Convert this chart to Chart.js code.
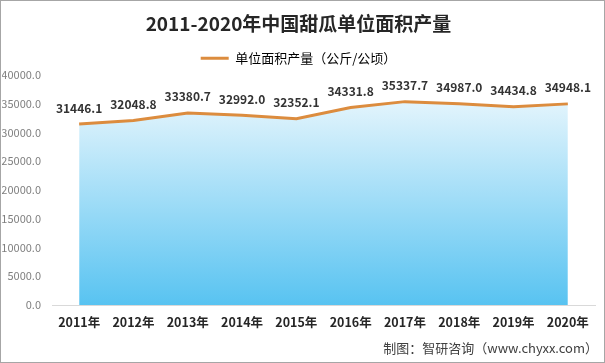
<!DOCTYPE html>
<html>
<head>
<meta charset="utf-8">
<script src="https://cdn.jsdelivr.net/npm/chart.js@4/dist/chart.umd.min.js"></script>
<style>
    html, body { margin: 0; padding: 0; background: #fff; }
    #wrap { width: 605px; height: 363px; position: relative; }
</style>
</head>
<body>
<div id="wrap"><canvas id="chart-melon"></canvas></div>
<script>
var years = ['2011年', '2012年', '2013年', '2014年', '2015年', '2016年', '2017年', '2018年', '2019年', '2020年'];
var yieldPerArea = [31446.1, 32048.8, 33380.7, 32992.0, 32352.1, 34331.8, 35337.7, 34987.0, 34434.8, 34948.1];
var seriesName = '单位面积产量（公斤/公顷）';
var chartTitle = '2011-2020年中国甜瓜单位面积产量';
var sourceText = '制图：智研咨询（www.chyxx.com）';

var FONT = "'Noto Sans CJK SC', 'Noto Sans', sans-serif";
var lineColor = '#DC8C3E';

// labels over points, source note and outer frame
var extrasPlugin = {
    id: 'extras',
    afterDatasetsDraw: function (chart) {
        var ctx = chart.ctx;
        var meta = chart.getDatasetMeta(0);
        ctx.save();
        ctx.font = 'bold 12px ' + FONT;
        ctx.fillStyle = '#333333';
        ctx.textAlign = 'center';
        ctx.textBaseline = 'middle';
        meta.data.forEach(function (pt, i) {
            ctx.fillText(yieldPerArea[i].toFixed(1), pt.x, pt.y - 16);
        });
        ctx.restore();
    },
    afterDraw: function (chart) {
        var ctx = chart.ctx;
        ctx.save();
        ctx.font = '13px ' + FONT;
        ctx.fillStyle = '#404040';
        ctx.textAlign = 'right';
        ctx.textBaseline = 'middle';
        ctx.fillText(sourceText, 598, 348);
        ctx.strokeStyle = '#A6A6A6';
        ctx.lineWidth = 1;
        ctx.strokeRect(0.5, 0.5, 604, 362);
        ctx.restore();
    }
};

var melonCtx = document.getElementById('chart-melon').getContext('2d');
var melonData = {
    labels: years,
    datasets: [{
        label: seriesName,
        data: yieldPerArea,
        borderColor: lineColor,
        borderWidth: 3,
        pointRadius: 0,
        tension: 0,
        fill: 'origin',
        backgroundColor: function (c) {
            var area = c.chart.chartArea;
            if (!area) return 'rgba(91,195,241,0.6)';
            var g = c.chart.ctx.createLinearGradient(0, area.top, 0, area.bottom);
            g.addColorStop(0, '#F5FBFE');
            g.addColorStop(1, '#58C3F1');
            return g;
        }
    }]
};

var melonChart = new Chart(melonCtx, {
    type: 'line',
    data: melonData,
    plugins: [extrasPlugin],
    options: {
        responsive: true,
        maintainAspectRatio: false,
        animation: false,
        layout: { padding: { left: 2, right: 10, top: 12, bottom: 23 } },
        plugins: {
            title: {
                display: true,
                text: chartTitle,
                color: '#262626',
                font: { family: FONT, size: 19, weight: 'bold' },
                padding: { top: 0, bottom: 11 }
            },
            legend: {
                display: true,
                labels: {
                    color: '#404040',
                    font: { family: FONT, size: 13 },
                    boxWidth: 28,
                    boxHeight: 3,
                    padding: 6,
                    generateLabels: function () {
                        return [{ text: seriesName, fillStyle: lineColor, strokeStyle: lineColor, lineWidth: 0, datasetIndex: 0 }];
                    }
                }
            },
            tooltip: { enabled: false }
        },
        scales: {
            x: {
                offset: true,
                grid: { display: false, drawTicks: false },
                border: { display: true, color: '#D9D9D9' },
                ticks: {
                    color: '#262626',
                    font: { family: FONT, size: 12.5, weight: 'bold' },
                    padding: 10,
                    maxRotation: 0
                }
            },
            y: {
                min: 0,
                max: 40000,
                grid: { display: false, drawTicks: false },
                border: { display: false },
                ticks: {
                    stepSize: 5000,
                    color: '#7F7F7F',
                    font: { family: FONT, size: 11 },
                    padding: 11,
                    callback: function (v) { return v.toFixed(1); }
                },
                afterFit: function (axis) { axis.width = 50; }
            }
        }
    }
});
</script>
</body>
</html>
